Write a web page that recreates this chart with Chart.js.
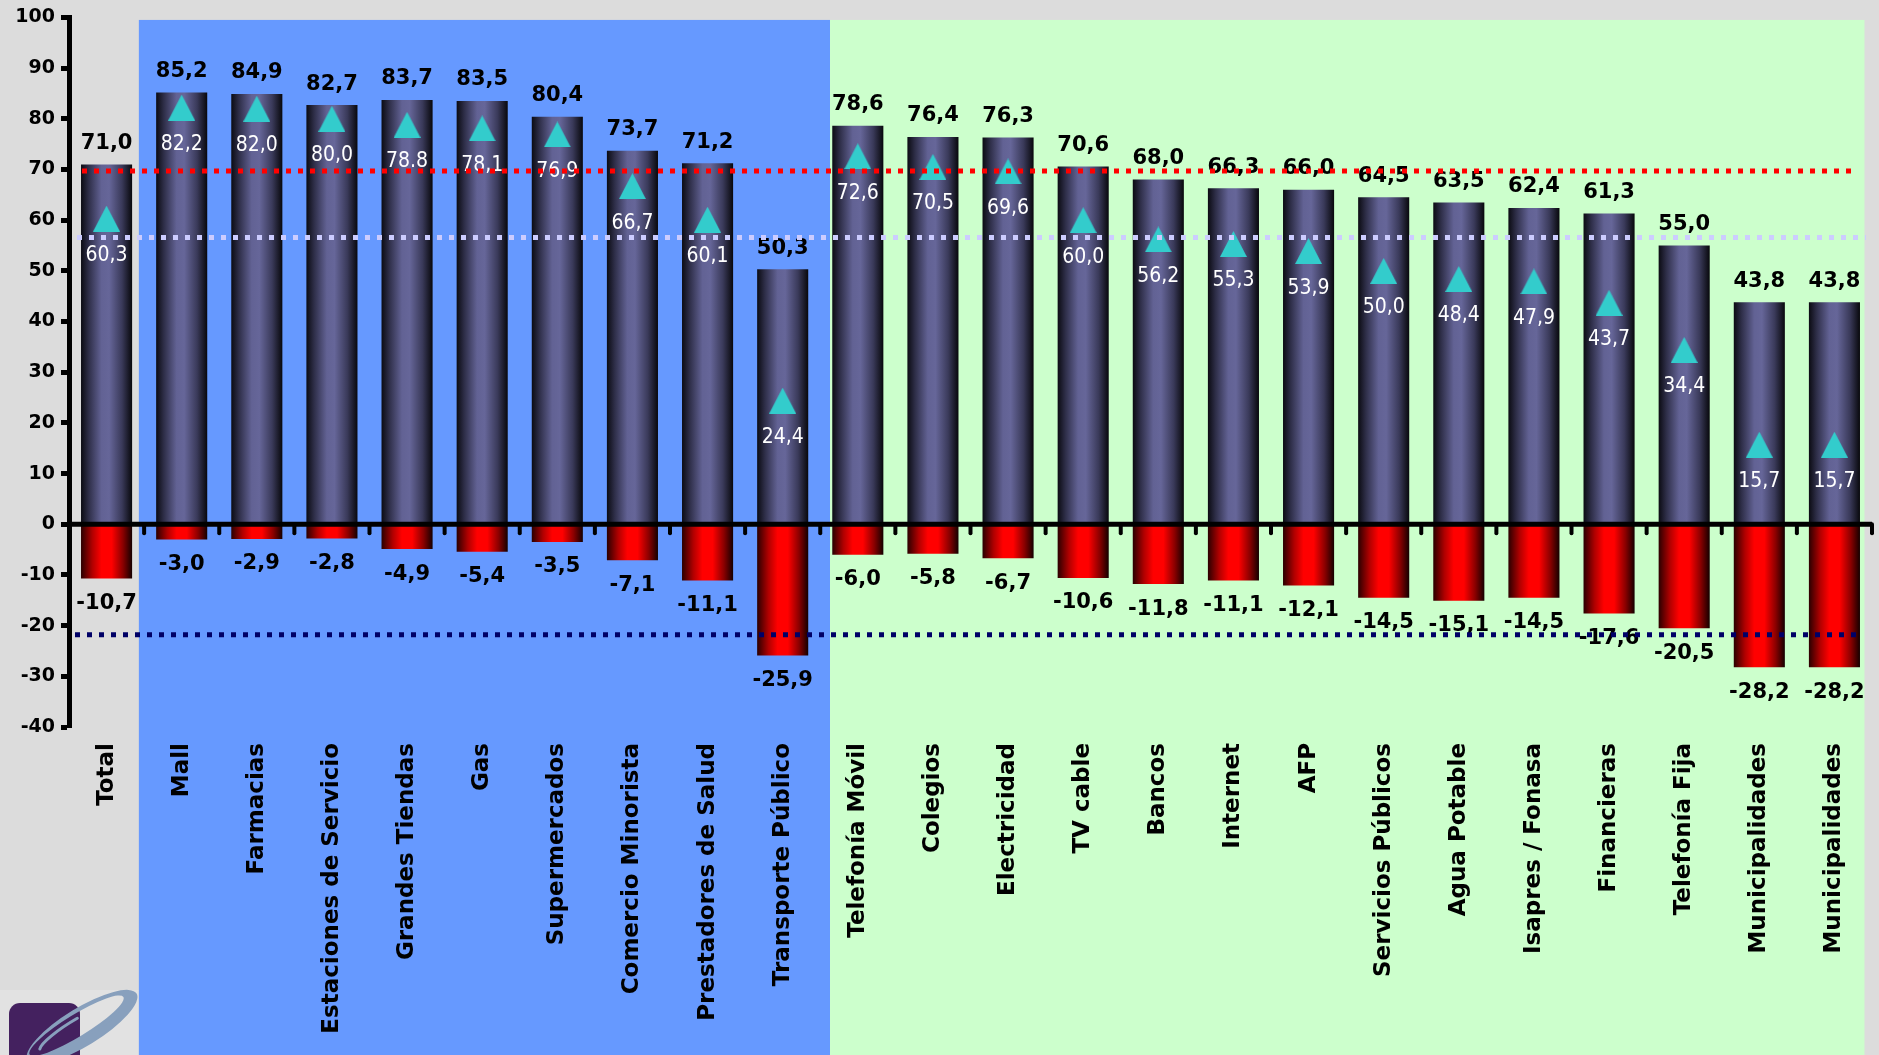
<!DOCTYPE html>
<html><head><meta charset="utf-8">
<script src="https://cdn.jsdelivr.net/npm/chart.js@4.4.1/dist/chart.umd.min.js"></script>
<style>html,body{margin:0;padding:0;background:#dcdcdc;overflow:hidden}canvas{display:block}</style>
</head><body>
<canvas id="c" width="1879" height="1055"></canvas>
<script>
const categories = ["Total","Mall","Farmacias","Estaciones de Servicio","Grandes Tiendas","Gas","Supermercados","Comercio Minorista","Prestadores de Salud","Transporte Público","Telefonía Móvil","Colegios","Electricidad","TV cable","Bancos","Internet","AFP","Servicios Públicos","Agua Potable","Isapres / Fonasa","Financieras","Telefonía Fija","Municipalidades","Municipalidades"];
const positiveValues = [71.0,85.2,84.9,82.7,83.7,83.5,80.4,73.7,71.2,50.3,78.6,76.4,76.3,70.6,68.0,66.3,66.0,64.5,63.5,62.4,61.3,55.0,43.8,43.8];
const negativeValues = [-10.7,-3.0,-2.9,-2.8,-4.9,-5.4,-3.5,-7.1,-11.1,-25.9,-6.0,-5.8,-6.7,-10.6,-11.8,-11.1,-12.1,-14.5,-15.1,-14.5,-17.6,-20.5,-28.2,-28.2];
const triangleValues = [60.3,82.2,82.0,80.0,78.8,78.1,76.9,66.7,60.1,24.4,72.6,70.5,69.6,60.0,56.2,55.3,53.9,50.0,48.4,47.9,43.7,34.4,15.7,15.7];
const triangleLabels = ["60,3","82,2","82,0","80,0","78.8","78,1","76,9","66,7","60,1","24,4","72,6","70,5","69,6","60,0","56,2","55,3","53,9","50,0","48,4","47,9","43,7","34,4","15,7","15,7"];
const yMin = -40, yMax = 100, yStep = 10;
const redLineValue = 69.7;
const lavenderLineValue = 56.6;
const navyLineValue = -21.8;

const fmt = v => v.toFixed(1).replace('.', ',');
const BAR_PCT = 0.68;
const PLOT_RIGHT = 1872;

function barGradient(c, stops) {
  const chart = c.chart, xs = chart.scales && chart.scales.x;
  if (!xs || c.dataIndex === undefined) return stops[3][1];
  const px = xs.getPixelForValue(c.dataIndex);
  const w = (xs.getPixelForValue(1) - xs.getPixelForValue(0)) * BAR_PCT;
  if (!isFinite(px) || !isFinite(w) || w <= 0) return stops[3][1];
  const g = chart.ctx.createLinearGradient(px - w / 2, 0, px + w / 2, 0);
  stops.forEach(s => g.addColorStop(s[0], s[1]));
  return g;
}
const purpleStops = [[0,'#0b0b12'],[0.15,'#2e2e48'],[0.4,'#626294'],[0.55,'#666699'],[0.8,'#3a3a5a'],[1,'#08080c']];
const redStops = [[0,'#2a0000'],[0.22,'#b00000'],[0.4,'#ff0000'],[0.6,'#ff0000'],[0.82,'#8a0000'],[1,'#140000']];

const tri = document.createElement('canvas');
tri.width = 27; tri.height = 26;
(function(){ const t = tri.getContext('2d'); t.fillStyle = '#33cccc'; t.beginPath(); t.moveTo(13.5,0); t.lineTo(27,26); t.lineTo(0,26); t.closePath(); t.fill(); })();

const decor = {
  id: 'decor',
  afterLayout(chart) {
    const x = chart.scales.x, ca = chart.chartArea;
    if (Math.abs(x.right - PLOT_RIGHT) > 0.5) {
      x.right = PLOT_RIGHT; x.width = PLOT_RIGHT - x.left;
      x.configure(); x._labelItems = null;
      ca.right = PLOT_RIGHT; ca.width = PLOT_RIGHT - ca.left;
    }
  },
  beforeDraw(chart) {
    const {ctx, scales: {x, y}} = chart;
    ctx.save();
    ctx.fillStyle = '#dcdcdc'; ctx.fillRect(0, 0, chart.width, chart.height);
    const top = y.getPixelForValue(99.5);
    const bx0 = x.getPixelForValue(0.43), bx1 = x.getPixelForValue(9.63), gx1 = x.getPixelForValue(23.4);
    ctx.fillStyle = '#e2e2e2'; ctx.fillRect(0, 990, bx0, chart.height - 990);
    ctx.fillStyle = '#6699ff'; ctx.fillRect(bx0, top, bx1 - bx0, chart.height - top);
    ctx.fillStyle = '#ccffcc'; ctx.fillRect(bx1, top, gx1 - bx1, chart.height - top);
    // logo
    ctx.fillStyle = '#44215f';
    ctx.beginPath(); ctx.roundRect(9, 1003, 71, 70, 11); ctx.fill();
    ctx.save();
    ctx.translate(82, 1027); ctx.rotate(-0.55);
    ctx.fillStyle = '#88a0bd';
    ctx.beginPath();
    ctx.ellipse(0, 0, 64, 19, 0, 0, Math.PI * 2);
    ctx.ellipse(-4, -4, 55, 11, 0, 0, Math.PI * 2);
    ctx.fill('evenodd');
    ctx.strokeStyle = '#88a0bd'; ctx.lineWidth = 3; ctx.lineCap = 'round';
    ctx.beginPath(); ctx.ellipse(-6, -2, 42, 8, 0, Math.PI * 1.05, Math.PI * 1.55); ctx.stroke();
    ctx.beginPath(); ctx.ellipse(0, 2, 44, 8, 0, Math.PI * 0.15, Math.PI * 0.45); ctx.stroke();
    ctx.restore();
    ctx.restore();
  },
  afterDatasetsDraw(chart) {
    const {ctx, scales: {x, y}, chartArea: ca} = chart;
    ctx.save();
    ctx.textAlign = 'center'; ctx.textBaseline = 'middle';
    ctx.font = 'bold 21px "DejaVu Sans"'; ctx.fillStyle = '#000';
    positiveValues.forEach((v, i) => ctx.fillText(fmt(v), x.getPixelForValue(i), y.getPixelForValue(v) - 21));
    negativeValues.forEach((v, i) => ctx.fillText(fmt(v), x.getPixelForValue(i), y.getPixelForValue(v) + 25));
    ctx.font = '21px "DejaVu Sans Condensed"'; ctx.fillStyle = '#ffffff';
    triangleValues.forEach((v, i) => ctx.fillText(triangleLabels[i], x.getPixelForValue(i), y.getPixelForValue(v) + 37));
    // zero line and tick marks
    const y0 = y.getPixelForValue(0);
    ctx.strokeStyle = '#000'; ctx.lineWidth = 5; ctx.lineCap = 'butt';
    ctx.beginPath(); ctx.moveTo(ca.left, y0); ctx.lineTo(ca.right, y0); ctx.stroke();
    ctx.lineWidth = 4; ctx.lineCap = 'round';
    categories.forEach((c, i) => {
      const bx = x.getPixelForValue(i + 0.5);
      ctx.beginPath(); ctx.moveTo(bx, y0); ctx.lineTo(bx, y0 + 9); ctx.stroke();
    });
    // dotted reference lines
    ctx.lineCap = 'butt'; ctx.lineWidth = 5; ctx.setLineDash([5, 7]);
    [[navyLineValue, '#000066', 6, -9], [lavenderLineValue, '#ccccff', 8, -6], [redLineValue, '#ff0000', 13, -20]].forEach(([v, col, l, r]) => {
      const py = y.getPixelForValue(v);
      ctx.strokeStyle = col;
      ctx.beginPath(); ctx.moveTo(ca.left + l, py); ctx.lineTo(ca.right + r, py); ctx.stroke();
    });
    ctx.restore();
  }
};

new Chart(document.getElementById('c'), {
  type: 'bar',
  data: {
    labels: categories,
    datasets: [
      { type: 'line', label: 'triangles', data: triangleValues, showLine: false, pointStyle: tri, pointRadius: 13, order: 0 },
      { type: 'bar', label: 'pos', data: positiveValues, grouped: false, barPercentage: BAR_PCT, categoryPercentage: 1, borderWidth: 0, order: 1,
        backgroundColor: c => barGradient(c, purpleStops) },
      { type: 'bar', label: 'neg', data: negativeValues, grouped: false, barPercentage: BAR_PCT, categoryPercentage: 1, borderWidth: 0, order: 2,
        backgroundColor: c => barGradient(c, redStops) }
    ]
  },
  options: {
    responsive: false, animation: false, devicePixelRatio: 1,
    layout: { padding: { top: 17, right: 7, bottom: 0, left: 0 } },
    plugins: { legend: { display: false }, tooltip: { enabled: false } },
    scales: {
      x: {
        grid: { display: false, drawTicks: false },
        border: { display: false },
        ticks: { autoSkip: false, minRotation: 90, maxRotation: 90, padding: 16, color: '#000', font: { family: 'DejaVu Sans', size: 23, weight: 'bold' } },
        afterFit: s => { s.height = 1055 - 727; s.paddingLeft = 0; s.paddingRight = 0; }
      },
      y: {
        min: yMin, max: yMax,
        ticks: { stepSize: yStep, padding: 6, color: '#000', font: { family: 'DejaVu Sans', size: 19, weight: 'bold' } },
        grid: { drawOnChartArea: false, drawTicks: true, tickLength: 8, tickWidth: 5, tickColor: '#000', color: '#000' },
        border: { display: true, color: '#000', width: 5 },
        afterFit: s => { s.width = 69; }
      }
    }
  },
  plugins: [decor]
});
</script>
</body></html>
